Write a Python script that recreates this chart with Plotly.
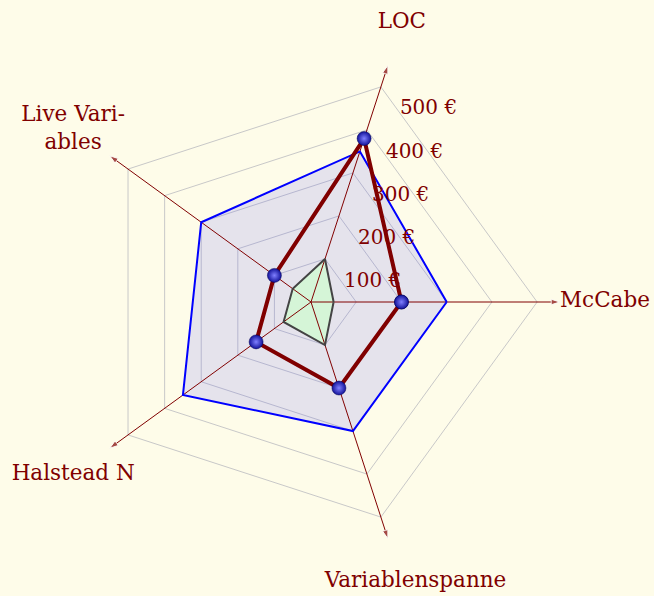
import plotly.graph_objects as go

categories = ["McCabe", "LOC", "Live Variables", "Halstead N", "Variablenspanne"]
axis_labels = ["McCabe", "LOC", "Live Vari-<br>ables", "Halstead N",
               "\u00a0\u00a0\u00a0\u00a0Variablenspanne"]
blue_values = [300, 350, 300, 350, 300]
red_values = [200, 380, 100, 150, 200]
green_values = [50, 100, 50, 75, 100]
tick_values = [100, 200, 300, 400, 500]
tick_labels = ["100 €", "200 €", "300 €", "400 €", "500 €"]
axis_length = 550
label_radius = 650
radial_max = 650
label_shift = 24  # tick labels sit slightly inward along the LOC axis

BG = "#FEFCE9"
DARKRED = "#800000"
FONT = "DejaVu Serif"


def closed(vals):
    return list(vals) + [vals[0]]


fig = go.Figure()

# fills
fig.add_trace(go.Scatterpolar(
    r=closed(blue_values), theta=closed(categories), mode="lines",
    fill="toself", fillcolor="rgba(90,90,255,0.15)",
    line=dict(width=0, color="rgba(0,0,0,0)"), hoverinfo="skip", showlegend=False))
fig.add_trace(go.Scatterpolar(
    r=closed(green_values), theta=closed(categories), mode="lines",
    fill="toself", fillcolor="rgba(205,255,205,0.65)",
    line=dict(width=0, color="rgba(0,0,0,0)"), hoverinfo="skip", showlegend=False))

# spokes with arrowheads
sr, st, ss = [], [], []
for c in categories:
    sr += [0, axis_length, None]
    st += [c, c, c]
    ss += [0, 9, 0]
fig.add_trace(go.Scatterpolar(
    r=sr, theta=st, mode="lines+markers",
    line=dict(color=DARKRED, width=1),
    marker=dict(symbol="arrow", size=ss, color=DARKRED, angleref="previous"),
    hoverinfo="skip", showlegend=False, cliponaxis=False))

# outlines
fig.add_trace(go.Scatterpolar(
    r=closed(blue_values), theta=closed(categories), mode="lines",
    line=dict(width=2, color="#0000FF"), showlegend=False))
fig.add_trace(go.Scatterpolar(
    r=closed(green_values), theta=closed(categories), mode="lines",
    line=dict(width=2, color="#444444"), showlegend=False))
fig.add_trace(go.Scatterpolar(
    r=closed(red_values), theta=closed(categories), mode="lines+markers",
    line=dict(width=4, color=DARKRED),
    marker=dict(size=14, color="#12129a", gradient=dict(type="radial", color="#8080ff"),
                line=dict(width=0.5, color="#000050")),
    showlegend=False, cliponaxis=False))

# axis labels
fig.add_trace(go.Scatterpolar(
    r=[label_radius] * len(categories), theta=categories, mode="text",
    text=axis_labels, textposition="middle center",
    textfont=dict(family=FONT, size=21.5, color=DARKRED),
    hoverinfo="skip", showlegend=False, cliponaxis=False))

# placeholder trace so the tick-label overlay subplot is drawn
fig.add_trace(go.Scatterpolar(r=[tick_values[0]], theta=[categories[0]], subplot="polar2",
                              mode="markers", marker=dict(opacity=0),
                              hoverinfo="skip", showlegend=False))

hidden_angular = dict(type="category", categoryarray=categories,
                      direction="counterclockwise", rotation=0,
                      showgrid=False, showline=False, showticklabels=False,
                      ticks="", layer="below traces")
full_domain = dict(x=[0, 1], y=[0, 1])

fig.update_layout(
    width=654, height=596,
    paper_bgcolor=BG,
    margin=dict(l=17, r=49, t=8, b=0),
    polar=dict(
        domain=full_domain,
        bgcolor=BG,
        gridshape="linear",
        angularaxis=hidden_angular,
        radialaxis=dict(range=[0, radial_max], tickvals=tick_values,
                        angle=72, showticklabels=False, ticks="",
                        showline=False, showgrid=True, gridcolor="#c8c8c8", gridwidth=1,
                        layer="below traces"),
    ),
    polar2=dict(
        domain=full_domain,
        bgcolor="rgba(0,0,0,0)",
        gridshape="linear",
        angularaxis=hidden_angular,
        radialaxis=dict(range=[label_shift, radial_max + label_shift],
                        tickvals=tick_values, ticktext=tick_labels,
                        angle=72, side="clockwise", tickangle=72,
                        showline=False, showgrid=False,
                        ticks="outside", ticklen=9, tickcolor="rgba(0,0,0,0)",
                        tickfont=dict(family=FONT, size=20, color=DARKRED),
                        layer="above traces"),
    ),
)

fig.write_html("out.html", config={"displayModeBar": False}, post_script=(
    "document.body.style.margin='0';document.body.style.padding='0';"
    "document.body.style.background='" + BG + "';"
    "document.documentElement.style.overflow='hidden';"))
